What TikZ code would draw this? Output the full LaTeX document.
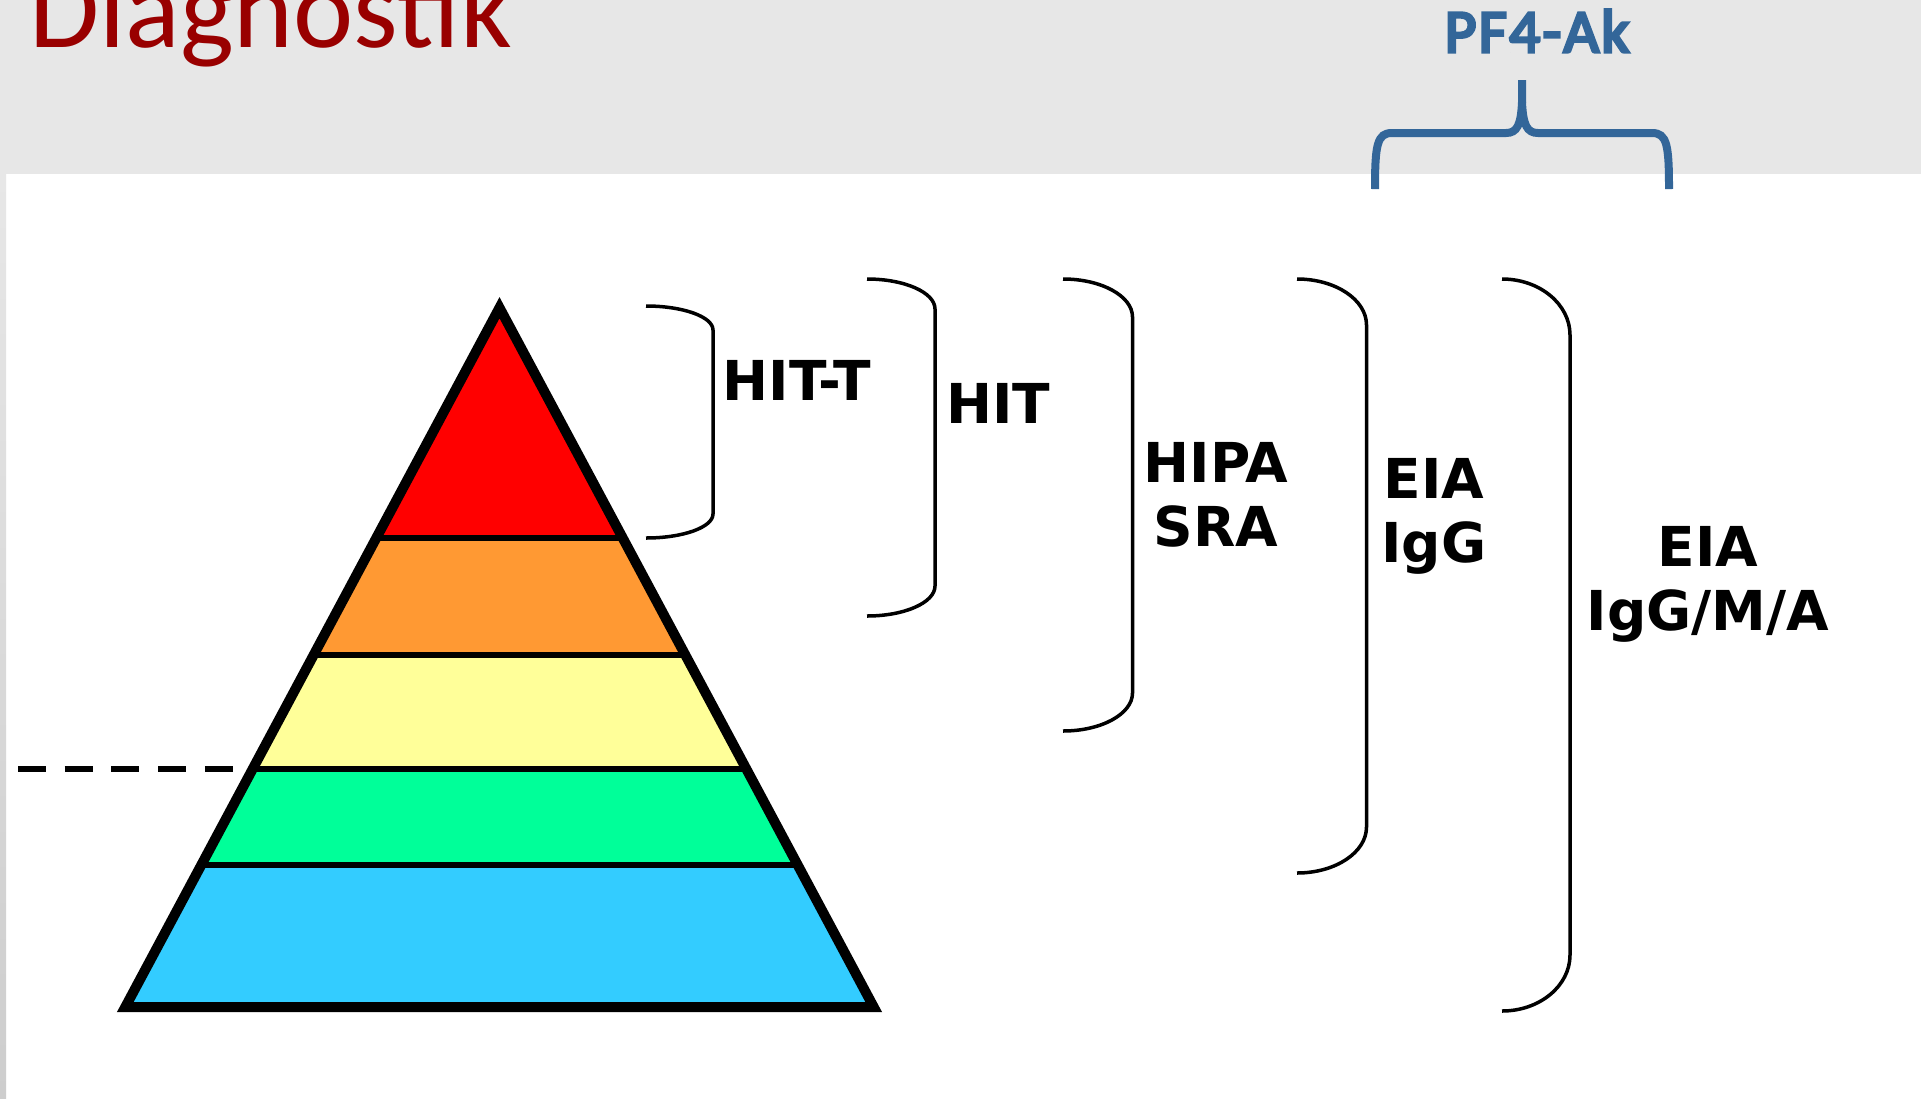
\documentclass[tikz,border=0pt]{standalone}
\usepackage{fontspec}
\setmainfont{Carlito}
\newfontfamily\pffont{Carlito}[FakeBold=5,LetterSpace=4]
\newfontfamily\lblfont{DejaVu Sans}
\definecolor{bgray}{RGB}{231,231,231}
\definecolor{stripgray}{RGB}{205,205,205}
\definecolor{titlered}{RGB}{153,0,0}
\definecolor{pfblue}{RGB}{51,102,153}
\definecolor{lvred}{RGB}{255,0,0}
\definecolor{lvorange}{RGB}{255,153,51}
\definecolor{lvyellow}{RGB}{255,255,153}
\definecolor{lvgreen}{RGB}{0,255,153}
\definecolor{lvblue}{RGB}{51,204,255}
\tikzset{
  brk/.style={line width=3.5pt, black},
  lbl/.style={font=\lblfont\bfseries\fontsize{55}{64.5}\selectfont, inner sep=0pt, align=center},
  bandline/.style={line width=6pt, black},
  outline/.style={line width=10pt, black, line join=miter},
  bluebrace/.style={line width=8pt, pfblue},
  dashline/.style={line width=6pt, black, dash pattern=on 28pt off 18.7pt},
}
% L R T B ry
\newcommand{\myBracket}[5]{%
  \draw[brk] (#1,#3) .. controls ({#1+0.5523*(#2-#1)},#3) and (#2,{#3+#5-0.5523*#5}) .. (#2,{#3+#5})
    -- (#2,{#4-#5}) .. controls (#2,{#4-#5+0.5523*#5}) and ({#1+0.5523*(#2-#1)},#4) .. (#1,#4);}
\begin{document}
\begin{tikzpicture}[x=1pt,y=-1pt]
\useasboundingbox (0,0) rectangle (1921,1098);
% background
\fill[bgray] (0,0) rectangle (1921,1098);
\fill[white] (6,174) rectangle (1921,1098);
\shade[top color=bgray, bottom color=stripgray] (0,174) rectangle (6,1098);

% title
\node[anchor=base west, inner sep=0pt, text=titlered, font=\fontsize{114}{130}\selectfont] (title) at (29,47) {Diagnostik};

% PF4 brace and label
\node[anchor=base, inner sep=0pt, text=pfblue, font=\pffont\fontsize{61}{70}\selectfont] (pf4) at (1537,52) {PF4-Ak};
\coordinate (stemtop) at (1522,80);
\coordinate (legL) at (1375,189);
\coordinate (legR) at (1669,189);
\draw[bluebrace] (legL) .. controls (1375,145) and (1377,133) .. (1392,133) -- (1506,133)
  .. controls (1517,133) and (1521,125) .. (1522,102) -- (stemtop);
\draw[bluebrace] (1522,102) .. controls (1523,125) and (1527,133) .. (1538,133) -- (1652,133)
  .. controls (1667,133) and (1669,145) .. (legR);

% pyramid
\coordinate (apex) at (499.5,307.7);
\coordinate (a1) at (376.3,538); \coordinate (b1) at (622.7,538);
\coordinate (a2) at (313.7,655); \coordinate (b2) at (685.3,655);
\coordinate (a3) at (252.7,769); \coordinate (b3) at (746.3,769);
\coordinate (a4) at (201.3,865); \coordinate (b4) at (797.7,865);
\coordinate (a5) at (125.3,1007); \coordinate (b5) at (873.7,1007);
\fill[lvred] (apex) -- (a1) -- (b1) -- cycle;
\fill[lvorange] (a1) -- (a2) -- (b2) -- (b1) -- cycle;
\fill[lvyellow] (a2) -- (a3) -- (b3) -- (b2) -- cycle;
\fill[lvgreen] (a3) -- (a4) -- (b4) -- (b3) -- cycle;
\fill[lvblue] (a4) -- (a5) -- (b5) -- (b4) -- cycle;
\draw[bandline] (a1) -- (b1);
\draw[bandline] (a2) -- (b2);
\draw[bandline] (a3) -- (b3);
\draw[bandline] (a4) -- (b4);
\draw[outline] (apex) -- (a5) -- (b5) -- cycle;

% dashed line
\coordinate (dashstart) at (18,769);
\coordinate (dashend) at (233,769);
\draw[dashline] (dashstart) -- (dashend);

% brackets
\myBracket{646}{713}{306}{538}{24}
\myBracket{867}{935}{279}{616}{30}
\myBracket{1063}{1132.5}{279}{731}{38}
\myBracket{1297}{1366.5}{279}{873}{46}
\myBracket{1502}{1570}{279}{1011}{56}

% labels
\node[lbl, anchor=base] (hitt) at (797,400) {HIT-T};
\node[lbl, anchor=base] (hit) at (998,423) {HIT};
\node[lbl, anchor=north] (hipa) at (1216,442) {HIPA\\SRA};
\node[lbl, anchor=north] (eiaigg) at (1434,458) {EIA\\IgG};
\node[lbl, anchor=north] (eiaall) at (1708,526) {EIA\\IgG/M/A};
\end{tikzpicture}
\end{document}
